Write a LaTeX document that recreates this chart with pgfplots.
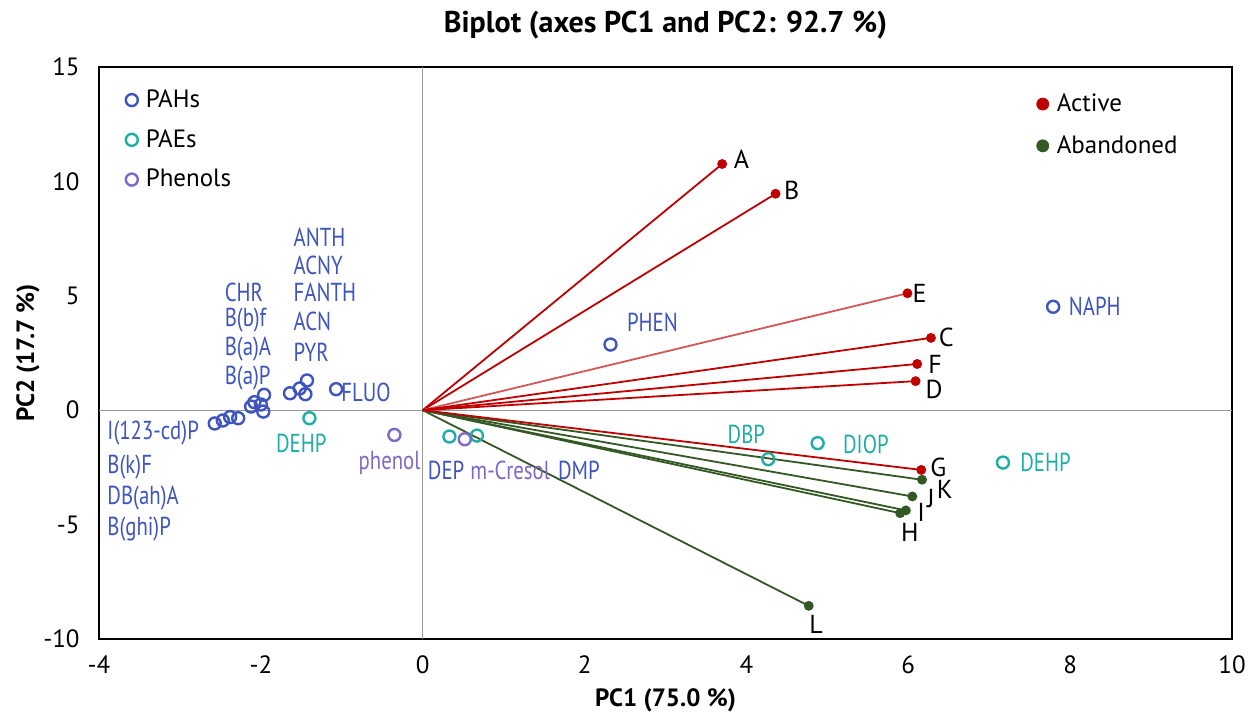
\documentclass[border=0pt]{standalone}
\usepackage{pgfplots}
\pgfplotsset{compat=1.18}
\usepackage{fontspec}
\setmainfont{PT Sans}
\newfontfamily\condfont[FakeStretch=0.80]{PT Sans}

\definecolor{pahblue}{RGB}{62,84,190}
\definecolor{paeteal}{RGB}{30,174,164}
\definecolor{phenpurple}{RGB}{128,104,200}
\definecolor{actred}{RGB}{192,0,0}
\definecolor{actlight}{RGB}{212,86,86}
\definecolor{abgreen}{RGB}{52,88,36}

\pgfplotstableread{
x y
7.79 4.52
2.32 2.87
-1.07 0.92
-1.43 1.30
-1.52 0.95
-1.64 0.74
-1.45 0.70
-1.96 0.67
-2.00 0.25
-2.08 0.35
-2.12 0.16
-1.97 -0.06
-2.57 -0.58
-2.47 -0.45
-2.38 -0.30
-2.28 -0.35
}\pahs

\pgfplotstableread{
x y
-1.40 -0.35
7.17 -2.29
4.27 -2.14
4.88 -1.44
0.33 -1.15
0.67 -1.11
}\paes

\pgfplotstableread{
x y
-0.35 -1.08
0.52 -1.27
}\phenols

\begin{document}
\begin{tikzpicture}[font=\fontsize{12}{14}\selectfont]
\pgfplotsset{
  act/.style={actred, line width=0.9pt, mark=*, mark indices={2}, mark size=2pt, mark options={solid, fill=actred}},
  aband/.style={abgreen, line width=0.9pt, mark=*, mark indices={2}, mark size=2pt, mark options={solid, fill=abgreen}},
}
\begin{axis}[
    name=main,
    scale only axis,
    width=566.5pt, height=286pt,
    xmin=-4, xmax=10, ymin=-10, ymax=15,
    xtick={-4,-2,...,10}, ytick={-10,-5,...,15},
    major tick length=0pt,
    /pgf/number format/assume math mode=true,
    tick label style={font=\fontsize{12.5}{14}\selectfont},
    xticklabel style={anchor=center, yshift=-13pt},
    yticklabel style={anchor=east, inner sep=0pt, xshift=-9.5pt},
    axis line style={line width=1pt},
    title={\textbf{Biplot (axes PC1 and PC2: 92.7 \%)}},
    title style={font=\fontsize{15}{17}\selectfont, at={(axis description cs:0.5,1.0734)}, anchor=center, yshift=-6pt},
    xlabel={\textbf{PC1 (75.0 \%)}},
    ylabel={\textbf{PC2 (17.7 \%)}},
    xlabel style={font=\fontsize{12.5}{14}\selectfont, at={(axis description cs:0.5,-0.1066)}, anchor=center},
    ylabel style={font=\fontsize{12.5}{14}\selectfont, at={(axis description cs:-0.0627,0.5)}, anchor=center},
    legend style={at={(0.018,0.975)}, anchor=north west, draw=none, fill=none,
      font=\fontsize{12.5}{14}\selectfont, row sep=5.5pt,
      nodes={inner xsep=4pt}},
    legend cell align=left,
    clip=false,
]
\draw[gray!80, line width=0.6pt] (axis cs:0,-10) -- (axis cs:0,15);
\draw[gray!80, line width=0.6pt] (axis cs:-4,0) -- (axis cs:10,0);

\addplot[only marks, mark=o, mark size=3pt, pahblue, line width=1.2pt] table {\pahs};
\addlegendentry{PAHs}
\addplot[only marks, mark=o, mark size=3pt, paeteal, line width=1.2pt] table {\paes};
\addlegendentry{PAEs}
\addplot[only marks, mark=o, mark size=3pt, phenpurple, line width=1.2pt] table {\phenols};
\addlegendentry{Phenols}

\addplot[act, forget plot] coordinates {(0,0) (3.70,10.76)};
\addplot[act, forget plot] coordinates {(0,0) (4.36,9.46)};
\addplot[act, actlight, mark options={fill=actred, draw=actred}, forget plot] coordinates {(0,0) (5.99,5.11)};
\addplot[act, forget plot] coordinates {(0,0) (6.28,3.16)};
\addplot[act, forget plot] coordinates {(0,0) (6.11,2.02)};
\addplot[act, forget plot] coordinates {(0,0) (6.09,1.27)};
\addplot[aband, forget plot] coordinates {(0,0) (6.17,-3.04)};
\addplot[aband, forget plot] coordinates {(0,0) (6.05,-3.77)};
\addplot[aband, forget plot] coordinates {(0,0) (5.97,-4.38)};
\addplot[aband, forget plot] coordinates {(0,0) (5.90,-4.50)};
\addplot[aband, forget plot] coordinates {(0,0) (4.77,-8.55)};
\addplot[act, forget plot] coordinates {(0,0) (6.16,-2.61)};

% arrow labels
\begin{scope}[every node/.style={font=\fontsize{13}{15}\selectfont}]
\node at (axis cs:3.94,10.97) {A};
\node at (axis cs:4.56,9.62) {B};
\node at (axis cs:6.14,5.11) {E};
\node at (axis cs:6.47,3.16) {C};
\node at (axis cs:6.33,2.02) {F};
\node at (axis cs:6.32,0.93) {D};
\node at (axis cs:6.37,-2.52) {G};
\node at (axis cs:6.45,-3.48) {K};
\node at (axis cs:6.28,-3.84) {J};
\node at (axis cs:6.16,-4.48) {I};
\node at (axis cs:6.02,-5.36) {H};
\node at (axis cs:4.86,-9.38) {L};
\end{scope}

% PAH labels
\begin{scope}[every node/.style={text=pahblue, font=\condfont\fontsize{13}{15}\selectfont, anchor=west, inner sep=0pt}]
\node at (axis cs:-1.60,7.57) {ANTH};
\node at (axis cs:-1.60,6.34) {ACNY};
\node at (axis cs:-1.60,5.17) {FANTH};
\node at (axis cs:-1.60,3.90) {ACN};
\node at (axis cs:-1.60,2.55) {PYR};
\node at (axis cs:-2.45,5.17) {CHR};
\node at (axis cs:-2.45,3.94) {B(b)f};
\node at (axis cs:-2.45,2.68) {B(a)A};
\node at (axis cs:-2.45,1.42) {B(a)P};
\node at (axis cs:-1.01,0.76) {FLUO};
\node at (axis cs:-3.90,-0.99) {I(123-cd)P};
\node at (axis cs:-3.90,-2.47) {B(k)F};
\node at (axis cs:-3.90,-3.86) {DB(ah)A};
\node at (axis cs:-3.90,-5.21) {B(ghi)P};
\node at (axis cs:2.52,3.82) {PHEN};
\node at (axis cs:7.98,4.55) {NAPH};
\node[anchor=center] at (axis cs:0.29,-2.61) {DEP};
\node[anchor=center] at (axis cs:1.93,-2.61) {DMP};
\end{scope}
\begin{scope}[every node/.style={text=paeteal, font=\condfont\fontsize{13}{15}\selectfont, inner sep=0pt}]
\node at (axis cs:-1.50,-1.47) {DEHP};
\node at (axis cs:4.00,-1.04) {DBP};
\node[anchor=west] at (axis cs:5.19,-1.51) {DIOP};
\node[anchor=west] at (axis cs:7.38,-2.30) {DEHP};
\end{scope}
\begin{scope}[every node/.style={text=phenpurple, font=\condfont\fontsize{13}{15}\selectfont, inner sep=0pt}]
\node at (axis cs:-0.41,-2.31) {phenol};
\node at (axis cs:1.08,-2.61) {m-Cresol};
\end{scope}
\end{axis}

\begin{axis}[
    scale only axis,
    width=566.5pt, height=286pt,
    xmin=-4, xmax=10, ymin=-10, ymax=15,
    hide axis,
    legend style={at={(0.822,0.968)}, anchor=north west, draw=none, fill=none,
      font=\fontsize{12.5}{14}\selectfont, row sep=6.5pt,
      nodes={inner xsep=4pt}},
    legend cell align=left,
]
\addlegendimage{only marks, mark=*, mark size=3pt, actred}
\addlegendentry{Active}
\addlegendimage{only marks, mark=*, mark size=3pt, abgreen}
\addlegendentry{Abandoned}
\end{axis}
\pgfresetboundingbox
\path[use as bounding box] ([xshift=-49.5pt,yshift=-39pt]main.south west) rectangle ([xshift=12.5pt,yshift=33.5pt]main.north east);
\end{tikzpicture}
\end{document}
